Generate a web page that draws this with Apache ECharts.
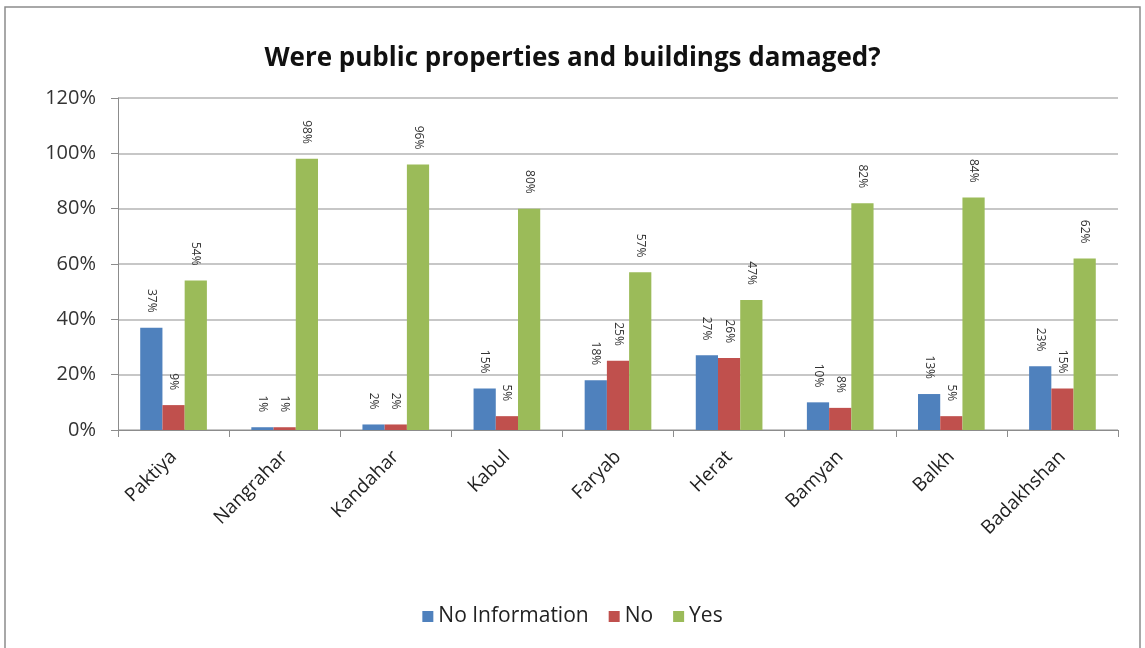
<!DOCTYPE html>
<html>
<head>
<meta charset="utf-8">
<script src="https://cdn.jsdelivr.net/npm/echarts@6/dist/echarts.min.js"></script>
<style>
  html, body { margin: 0; padding: 0; background: #ffffff; }
  #chart { width: 1145px; height: 648px; }
</style>
</head>
<body>
<div id="chart"></div>
<script>
// Provinces surveyed
const provinces = ['Paktiya', 'Nangrahar', 'Kandahar', 'Kabul', 'Faryab', 'Herat', 'Bamyan', 'Balkh', 'Badakhshan'];
// Share of answers per province (%)
const noInformation = [37, 1, 2, 15, 18, 27, 10, 13, 23];
const no            = [9, 1, 2, 5, 25, 26, 8, 5, 15];
const yes           = [54, 98, 96, 80, 57, 47, 82, 84, 62];
const yTicks = [0, 20, 40, 60, 80, 100, 120];

const font = '"Open Sans", "Liberation Sans", sans-serif';

function makeSeries(name, data, color) {
  return {
    name: name,
    type: 'bar',
    data: data,
    barGap: '0%',
    barCategoryGap: '40%',
    itemStyle: { color: color },
    label: {
      show: true,
      position: 'top',
      rotate: -90,
      align: 'right',
      verticalAlign: 'middle',
      distance: 15,
      fontSize: 12,
      fontFamily: font,
      color: '#333',
      formatter: p => p.value + '%'
    }
  };
}

const chart = echarts.init(document.getElementById('chart'));
chart.setOption({
  animation: false,
  backgroundColor: '#ffffff',
  title: {
    text: 'Were public properties and buildings damaged?',
    left: 'center',
    top: 41,
    textStyle: { fontSize: 26, fontWeight: 'bold', color: '#111', fontFamily: font }
  },
  legend: {
    bottom: 16,
    left: 'center',
    itemWidth: 11,
    itemHeight: 11,
    itemGap: 20,
    icon: 'rect',
    textStyle: { fontSize: 21, color: '#222', fontFamily: font }
  },
  grid: { left: 118, right: 27, top: 98, bottom: 218 },
  xAxis: {
    type: 'category',
    data: provinces,
    axisLine: { lineStyle: { color: '#8c8c8c' } },
    axisTick: { show: true, length: 7, lineStyle: { color: '#8c8c8c' } },
    axisLabel: { rotate: 45, fontSize: 19, color: '#222', fontFamily: font, margin: 24 }
  },
  yAxis: {
    type: 'value',
    min: yTicks[0],
    max: yTicks[yTicks.length - 1],
    interval: 20,
    axisLine: { show: true, lineStyle: { color: '#8c8c8c' } },
    axisTick: { show: true, length: 7, lineStyle: { color: '#8c8c8c' } },
    axisLabel: { fontSize: 20, color: '#333', fontFamily: font, margin: 22, formatter: v => v + '%' },
    splitLine: { lineStyle: { color: '#b5b5b5', width: 1.5 } }
  },
  series: [
    makeSeries('No Information', noInformation, '#4F81BD'),
    makeSeries('No', no, '#C0504D'),
    makeSeries('Yes', yes, '#9BBB59')
  ],
  graphic: [{
    type: 'rect',
    shape: { x: 5, y: 7, width: 1135, height: 645 },
    style: { fill: 'none', stroke: '#8c8c8c', lineWidth: 1.5 },
    silent: true
  }]
});
</script>
</body>
</html>
